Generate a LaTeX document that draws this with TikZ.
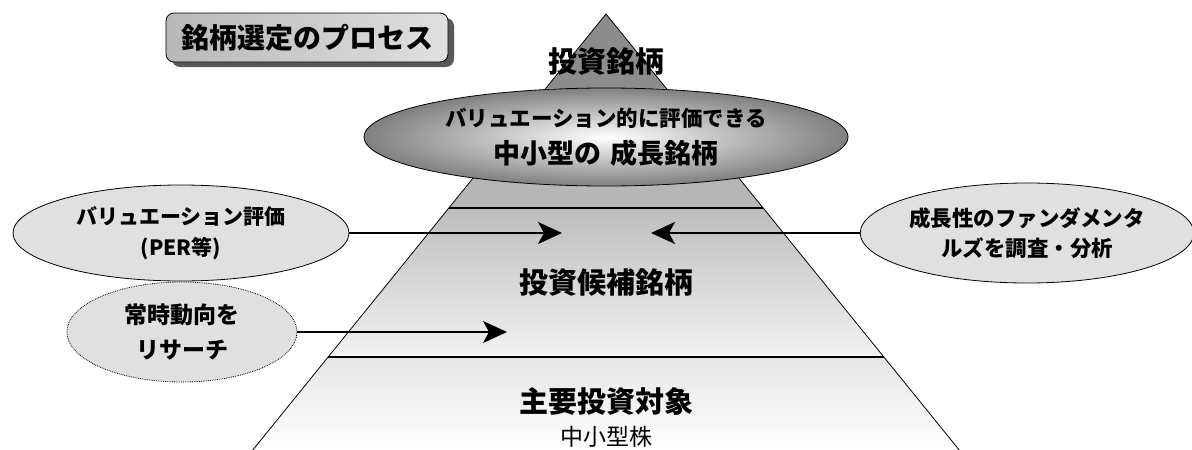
\documentclass[tikz,border=0pt]{standalone}
\usepackage{fontspec}
\setmainfont{Noto Sans CJK JP}
\usetikzlibrary{shapes.geometric,arrows.meta,shadows}
\definecolor{apexc}{gray}{0.55}
\definecolor{secatop}{gray}{0.68}
\definecolor{secabot}{gray}{0.72}
\definecolor{secbtop}{gray}{0.74}
\definecolor{secbbot}{gray}{0.95}
\definecolor{secctop}{gray}{0.9}
\definecolor{ellout}{gray}{0.5}
\definecolor{sidefill}{gray}{0.88}
\definecolor{shadowc}{gray}{0.35}
\definecolor{titleleft}{gray}{0.72}
\definecolor{titleright}{gray}{0.88}
\tikzset{
  jp/.style={font=\fontsize{#1}{#1}\selectfont\bfseries, inner sep=0pt},
  jpreg/.style={font=\fontsize{#1}{#1}\selectfont, inner sep=0pt},
  sideell/.style={ellipse, draw=black, line width=0.8pt, fill=sidefill, align=center, inner sep=0pt},
  arr/.style={-{Stealth[length=24pt,width=22pt,inset=6pt]}, line width=1.5pt},
  sepline/.style={line width=2pt},
  edge/.style={line width=0.8pt}
}
\begin{document}
\begin{tikzpicture}[x=1pt,y=-1pt]
\useasboundingbox (0,0) rectangle (1192,450);
% pyramid geometry
\coordinate (apex) at (606,14);
\coordinate (l88) at (546.1,88);
\coordinate (r88) at (665.9,88);
\coordinate (l208) at (448.9,208);
\coordinate (r208) at (763.1,208);
\coordinate (l357) at (328.2,357);
\coordinate (r357) at (883.8,357);
\coordinate (l450) at (252.8,450);
\coordinate (r450) at (959.2,450);
\fill[apexc] (apex) -- (r88) -- (l88) -- cycle;
\shade[top color=secatop, bottom color=secabot] (l88) -- (r88) -- (r208) -- (l208) -- cycle;
\shade[top color=secbtop, bottom color=secbbot] (l208) -- (r208) -- (r357) -- (l357) -- cycle;
\shade[top color=secctop, bottom color=white] (l357) -- (r357) -- (r450) -- (l450) -- cycle;
\draw[edge] (l450) -- (apex) -- (r450);
\draw[sepline] (l208) -- (r208);
\draw[sepline] (l357) -- (r357);
% top label
\node[jp=29] (toplab) at (606,62) {投資銘柄};
% big ellipse
\node[ellipse, draw=black, line width=0.8pt, minimum width=484pt, minimum height=98pt, inner sep=0pt,
      shading=radial, inner color=white, outer color=ellout] (goal) at (606,137) {};
\node[jp=21.5] (goalA) at (606,118) {バリュエーション的に評価できる};
\node[jp=27] (goalB) at (606,153) {中小型の\hspace{0.35em}成長銘柄};
% section labels
\node[jp=29] (cand) at (606,283) {投資候補銘柄};
\node[jp=29] (main) at (606,401) {主要投資対象};
\node[jpreg=23] (small) at (606,437) {中小型株};
% title
\node[draw=black, line width=0.8pt, rounded corners=8pt, minimum width=282pt, minimum height=49pt,
      left color=titleleft, middle color=white, right color=titleright,
      drop shadow={shadow xshift=6pt, shadow yshift=-5pt, fill=shadowc, opacity=1},
      jp=28] (title) at (307,37.5) {銘柄選定のプロセス};
% side ellipses
\node[sideell, minimum width=336pt, minimum height=96pt, font=\fontsize{21}{31}\selectfont\bfseries] (val) at (181,233)
  {バリュエーション評価\\(PER等)};
\node[sideell, densely dotted, minimum width=230pt, minimum height=100pt, font=\fontsize{23}{35}\selectfont\bfseries] (res) at (182,332)
  {常時動向を\\リサーチ};
\node[sideell, minimum width=330pt, minimum height=100pt, font=\fontsize{21.5}{30}\selectfont\bfseries] (fund) at (1027,233)
  {成長性のファンダメンタ\\ルズを調査・分析};
% arrows
\coordinate (t1) at (562,233);
\coordinate (t2) at (651,233);
\coordinate (t3) at (507,332);
\draw[arr] (val.east) -- (t1);
\draw[arr] (fund.west) -- (t2);
\draw[arr] (res.east) -- (t3);
\end{tikzpicture}
\end{document}
